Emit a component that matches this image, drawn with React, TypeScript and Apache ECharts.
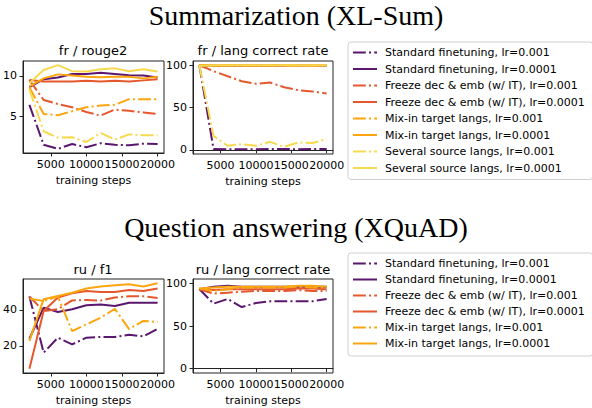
import { useRef, useEffect } from "react";
import * as echarts from "echarts";

const STEPS = [2000, 4000, 6000, 8000, 10000, 12000, 14000, 16000, 18000, 20000];

const NAMES = [
  "Standard finetuning, lr=0.001",
  "Standard finetuning, lr=0.0001",
  "Freeze dec & emb (w/ IT), lr=0.001",
  "Freeze dec & emb (w/ IT), lr=0.0001",
  "Mix-in target langs, lr=0.001",
  "Mix-in target langs, lr=0.0001",
  "Several source langs, lr=0.001",
  "Several source langs, lr=0.0001",
];
const COLORS = ["#5b166e", "#5b166e", "#e5582e", "#e5582e", "#fba60f", "#fba60f", "#f8d94e", "#f8d94e"];
const DASHDOT = [true, false, true, false, true, false, true, false];

const X_TICKS = [5000, 10000, 15000, 20000];

// Summarization: fr / rouge2
const R2_STD_1E3 = [6.4, 1.4, 0.9, 1.5, 1.1, 1.6, 1.4, 1.35, 1.55, 1.5];
const R2_STD_1E4 = [8.6, 9.6, 9.8, 10.25, 10.25, 10.4, 10.25, 10.1, 10.05, 9.8];
const R2_FRZ_1E3 = [9.5, 7.0, 6.5, 6.1, 5.5, 5.05, 5.8, 5.65, 5.45, 5.25];
const R2_FRZ_1E4 = [9.5, 9.3, 9.3, 9.3, 9.4, 9.3, 9.4, 9.3, 9.45, 9.6];
const R2_MIX_1E3 = [8.6, 5.25, 5.1, 5.6, 6.1, 6.3, 6.4, 7.1, 7.1, 7.1];
const R2_MIX_1E4 = [8.7, 9.7, 10.2, 10.05, 9.9, 9.85, 9.9, 9.9, 9.7, 9.9];
const R2_SEV_1E3 = [8.3, 3.1, 2.3, 2.35, 1.75, 2.9, 2.05, 2.7, 2.6, 2.6];
const R2_SEV_1E4 = [9.1, 10.75, 11.35, 10.6, 10.55, 10.85, 10.95, 10.6, 10.85, 10.55];

// Summarization: fr / lang correct rate
const FRLC_STD_1E3 = [100, 1, 0.5, 0.5, 0.5, 1, 1, 0.5, 1, 1];
const FRLC_STD_1E4 = [100, 99.8, 99.8, 99.9, 99.8, 99.9, 99.8, 99.9, 99.9, 99.8];
const FRLC_FRZ_1E3 = [100, 93, 87, 81, 78, 79.5, 74, 70.5, 69, 66.5];
const FRLC_FRZ_1E4 = [100, 99.6, 99.7, 99.6, 99.7, 99.6, 99.7, 99.6, 99.7, 99.6];
const FRLC_MIX_1E3 = [100, 99.7, 99.8, 99.7, 99.8, 99.8, 99.7, 99.8, 99.8, 99.7];
const FRLC_MIX_1E4 = [100, 99.8, 99.9, 99.9, 99.8, 99.9, 99.9, 99.8, 99.9, 99.9];
const FRLC_SEV_1E3 = [100, 16.5, 4.7, 6.7, 4.7, 9.4, 3.5, 8.6, 8, 12.6];
const FRLC_SEV_1E4 = [99.5, 99.9, 99.9, 99.9, 99.9, 99.9, 99.9, 99.9, 99.9, 99.9];

// Question answering: ru / f1
const F1_STD_1E3 = [47.5, 16.3, 24.6, 20.9, 24.6, 25, 25, 26.3, 25.3, 29.6];
const F1_STD_1E4 = [24, 41.3, 38.9, 40.4, 42.6, 43.1, 42.2, 44, 44, 44];
const F1_FRZ_1E3 = [47.5, 39.4, 40.4, 45.3, 45.5, 45.2, 46.9, 47.6, 47.6, 46.7];
const F1_FRZ_1E4 = [7.4, 39.4, 46.9, 49.3, 50.5, 50, 50, 51.1, 50.5, 51.9];
const F1_MIX_1E3 = [46.3, 45, 47.4, 28.3, 32, 35.7, 40.6, 29.4, 33.9, 33.3];
const F1_MIX_1E4 = [22.8, 46, 47.8, 49.6, 51.9, 53, 53.7, 54.3, 53, 54.8];

// Question answering: ru / lang correct rate
const RULC_STD_1E3 = [93.3, 76.2, 81.6, 72.2, 76.9, 78.9, 78.9, 78.9, 78.9, 81.6];
const RULC_STD_1E4 = [93, 96, 97, 96, 96, 96, 96, 96, 96, 96];
const RULC_FRZ_1E3 = [93, 88, 89, 90, 91, 91, 91, 92, 91, 91];
const RULC_FRZ_1E4 = [93, 92, 93, 93, 93, 93, 93, 94, 94, 93];
const RULC_MIX_1E3 = [94, 91, 93, 95, 95, 95, 95, 96, 95, 95];
const RULC_MIX_1E4 = [94, 95, 96, 96, 96, 96, 96, 97, 97, 96];

const FONT = "DejaVu Sans";
const AXIS_COLOR = "#222";
const DASH = [12.8, 3.2, 2, 3.2];

function lines(gridIndex: number, values: number[][]) {
  return values.map((vals, i) => ({
    name: NAMES[i],
    type: "line" as const,
    xAxisIndex: gridIndex,
    yAxisIndex: gridIndex,
    symbol: "none",
    data: vals.map((v, k) => [STEPS[k], v]),
    lineStyle: { color: COLORS[i], width: 2, type: DASHDOT[i] ? DASH : "solid" },
    itemStyle: { color: COLORS[i] },
  }));
}

const plain = (v: number) => String(v);

function xAxis(gridIndex: number) {
  return {
    type: "value" as const,
    gridIndex,
    min: 1100,
    max: 20900,
    name: "training steps",
    nameLocation: "middle" as const,
    nameGap: 22,
    nameTextStyle: { fontFamily: FONT, fontSize: 11, color: "#000" },
    axisLine: { show: true, lineStyle: { color: AXIS_COLOR, width: 1 } },
    axisTick: { show: true, length: 3.5, customValues: X_TICKS, lineStyle: { color: AXIS_COLOR } },
    axisLabel: {
      customValues: X_TICKS, formatter: plain, hideOverlap: false, showMaxLabel: true,
      margin: 6, fontFamily: FONT, fontSize: 11, color: "#000",
    },
    splitLine: { show: false },
  };
}

function yAxis(gridIndex: number, min: number, max: number, ticks: number[]) {
  return {
    type: "value" as const,
    gridIndex,
    min,
    max,
    axisLine: { show: true, lineStyle: { color: AXIS_COLOR, width: 1 } },
    axisTick: { show: true, length: 3.5, customValues: ticks, lineStyle: { color: AXIS_COLOR } },
    axisLabel: { customValues: ticks, formatter: plain, margin: 6, fontFamily: FONT, fontSize: 11, color: "#000" },
    splitLine: { show: false },
  };
}

function text(x: number, y: number, t: string, font: string) {
  return {
    type: "text" as const,
    x,
    y,
    style: { text: t, font, fill: "#000", textAlign: "center", textVerticalAlign: "middle" },
  };
}

function legend(top: number, data: string[], gap: number, padding: number[]) {
  return {
    orient: "vertical" as const,
    left: 348,
    top,
    data,
    itemWidth: 24,
    itemHeight: 11,
    itemGap: gap,
    padding,
    backgroundColor: "#fff",
    borderColor: "#d0d0d0",
    borderWidth: 1,
    borderRadius: 3,
    selectedMode: false,
    itemStyle: { opacity: 0 },
    textStyle: { fontFamily: FONT, fontSize: 11, color: "#000", padding: [0, 0, 0, 3] },
  };
}

export default function App() {
  const ref = useRef<HTMLDivElement>(null);
  useEffect(() => {
    document.body.style.margin = "0";
    if (!ref.current) return;
    const chart = echarts.init(ref.current, null, { renderer: "svg" });
    const grid = (left: number, top: number, width: number, height: number) => ({
      left, top, width, height, show: true, borderColor: AXIS_COLOR, borderWidth: 1, containLabel: false,
    });
    chart.setOption({
      animation: false,
      grid: [grid(23, 61, 141, 92), grid(193, 61, 140, 93), grid(23, 279, 141, 94), grid(193, 279, 140, 94)],
      xAxis: [xAxis(0), xAxis(1), xAxis(2), xAxis(3)],
      yAxis: [
        yAxis(0, 0.38, 11.87, [5, 10]),
        yAxis(1, -5, 105, [0, 50, 100]),
        yAxis(2, 5.0, 57.2, [20, 40]),
        yAxis(3, -5, 105, [0, 50, 100]),
      ],
      legend: [legend(42, NAMES, 5.5, [5, 8, 6, 4]), legend(253, NAMES.slice(0, 6), 5, [5, 8, 7, 4])],
      graphic: [
        text(296, 15, "Summarization (XL-Sum)", `28px "Liberation Serif"`),
        text(296, 227, "Question answering (XQuAD)", `28px "Liberation Serif"`),
        text(93, 50, "fr / rouge2", `13px "${FONT}"`),
        text(263, 50, "fr / lang correct rate", `13px "${FONT}"`),
        text(93, 269, "ru / f1", `13px "${FONT}"`),
        text(263, 269, "ru / lang correct rate", `13px "${FONT}"`),
      ],
      series: [
        ...lines(0, [R2_STD_1E3, R2_STD_1E4, R2_FRZ_1E3, R2_FRZ_1E4, R2_MIX_1E3, R2_MIX_1E4, R2_SEV_1E3, R2_SEV_1E4]),
        ...lines(1, [FRLC_STD_1E3, FRLC_STD_1E4, FRLC_FRZ_1E3, FRLC_FRZ_1E4, FRLC_MIX_1E3, FRLC_MIX_1E4, FRLC_SEV_1E3, FRLC_SEV_1E4]),
        ...lines(2, [F1_STD_1E3, F1_STD_1E4, F1_FRZ_1E3, F1_FRZ_1E4, F1_MIX_1E3, F1_MIX_1E4]),
        ...lines(3, [RULC_STD_1E3, RULC_STD_1E4, RULC_FRZ_1E3, RULC_FRZ_1E4, RULC_MIX_1E3, RULC_MIX_1E4]),
      ],
    });
    return () => chart.dispose();
  }, []);
  return <div ref={ref} style={{ position: "absolute", left: 0, top: 0, width: 592, height: 408 }} />;
}
